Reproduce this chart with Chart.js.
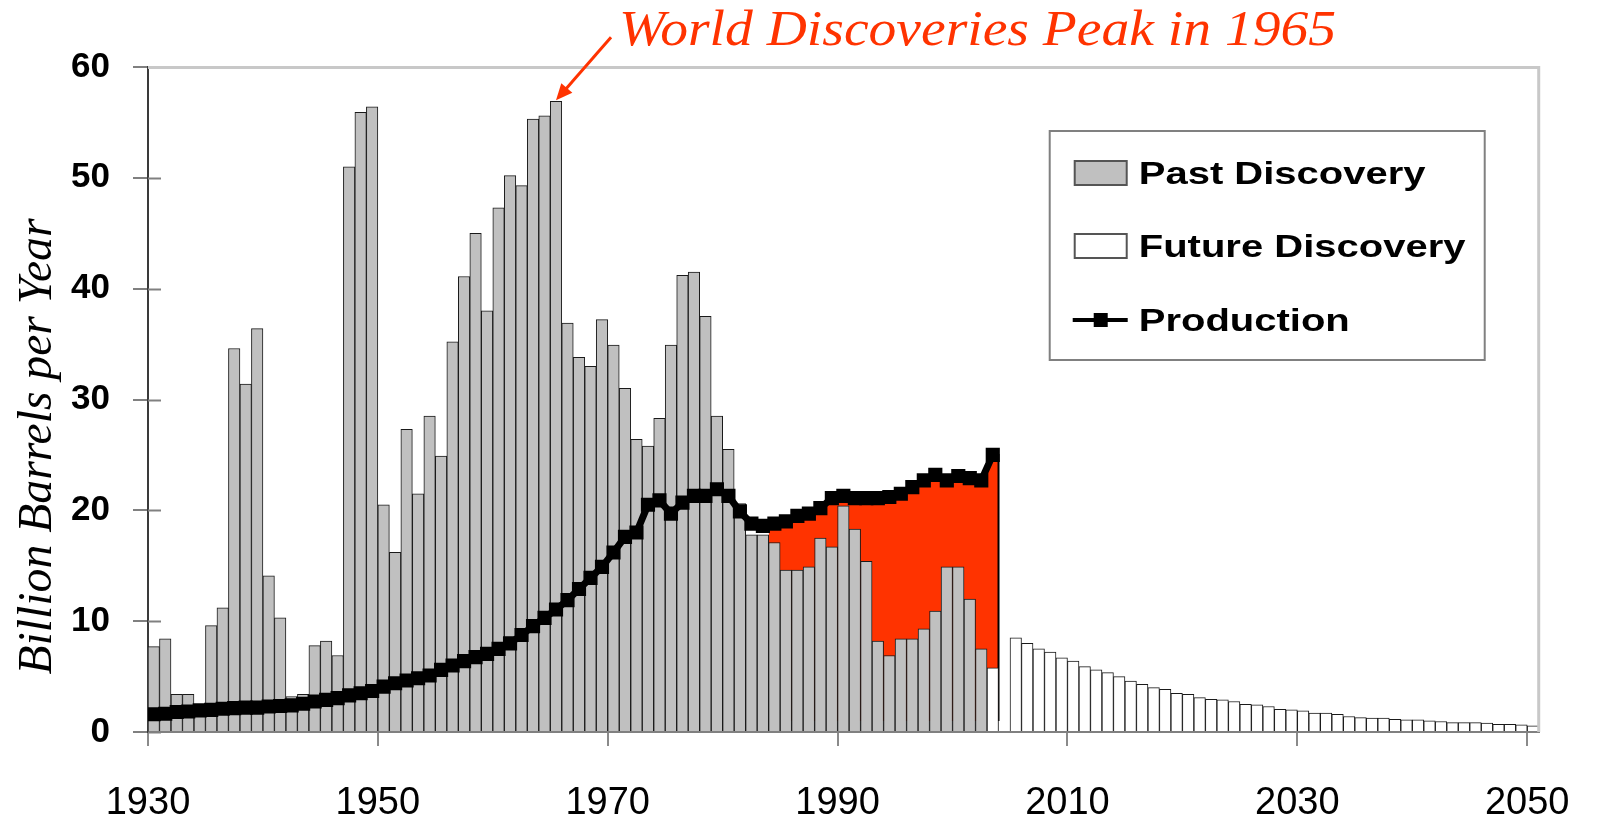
<!DOCTYPE html>
<html>
<head>
<meta charset="utf-8">
<script src="https://cdn.jsdelivr.net/npm/chart.js@4.4.1/dist/chart.umd.min.js"></script>
<style>
html, body { margin: 0; padding: 0; background: #fff; }
.wrap { width: 1601px; height: 824px; position: relative; }
</style>
</head>
<body>
<div class="wrap"><canvas id="chart"></canvas></div>
<script>
// discovery per year, billion barrels (past = grey bars)
let pastStart = 1930;
let pastDiscovery = [
  7.7, 8.4, 3.4, 3.4, 1.8, 9.6, 11.2, 34.6, 31.4, 36.4,
  14.1, 10.3, 3.2, 3.4, 7.8, 8.2, 6.9, 51.0, 55.9, 56.4,
  20.5, 16.2, 27.3, 21.5, 28.5, 24.9, 35.2, 41.1, 45.0, 38.0,
  47.3, 50.2, 49.3, 55.3, 55.6, 56.9, 36.9, 33.8, 33.0, 37.2,
  34.9, 31.0, 26.4, 25.8, 28.3, 34.9, 41.2, 41.5, 37.5, 28.5,
  25.5, 20.6, 17.8, 17.8, 17.1, 14.6, 14.6, 14.9, 17.5, 16.7,
  20.4, 18.3, 15.4, 8.2, 6.9, 8.4, 8.4, 9.3, 10.9, 14.9,
  14.9, 12.0, 7.5
];

// future discovery (white bars), from 2003
let futureStart = 2003;
let futureDiscovery = [
  5.8, null, 8.5, 8.0, 7.5, 7.2, 6.7,
  6.4, 5.9, 5.6, 5.35, 5.0, 4.6, 4.3, 4.0, 3.85, 3.5,
  3.4, 3.1, 2.95, 2.9, 2.75, 2.5, 2.45, 2.3, 2.05, 2.0,
  1.9, 1.7, 1.7, 1.6, 1.4, 1.3, 1.25, 1.25, 1.15, 1.1,
  1.1, 1.0, 0.95, 0.85, 0.85, 0.85, 0.8, 0.7, 0.7, 0.65, 0.55
];

// production, 1930-2003
let productionStart = 1930;
let production = [
  1.6, 1.65, 1.8, 1.85, 1.95, 2.0, 2.1, 2.15, 2.2, 2.2,
  2.3, 2.35, 2.4, 2.55, 2.75, 2.9, 3.05, 3.3, 3.5, 3.7,
  4.1, 4.4, 4.65, 4.85, 5.1, 5.6, 6.0, 6.4, 6.75, 7.05,
  7.5, 8.0, 8.75, 9.55, 10.3, 11.05, 11.9, 12.9, 13.9, 14.9,
  16.2, 17.6, 18.0, 20.5, 20.9, 19.7, 20.7, 21.3, 21.3, 21.9,
  21.3, 19.9, 18.8, 18.6, 18.8, 19.0, 19.5, 19.7, 20.2, 21.1,
  21.3, 21.1, 21.1, 21.1, 21.2, 21.5, 22.1, 22.7, 23.2, 22.7,
  23.1, 22.9, 22.7, 25.0
];

// years where production runs ahead of discovery (red area)
let gapFrom = 1984;
let gapTo = 2003;

let xTicks = [1930, 1950, 1970, 1990, 2010, 2030, 2050];
let peakYear = 1965;
let peakLabel = "World Discoveries Peak in 1965";
let yTitle = "Billion Barrels per Year";
let legendLabels = ["Past Discovery", "Future Discovery", "Production"];

let toPoints = (start, arr) => arr.map((v, i) => ({x: start + i + 0.5, y: v}));

let gapPoints = () => {
  let pts = [{x: gapFrom, y: production[gapFrom - productionStart]}];
  for (let yr = gapFrom; yr <= gapTo; yr++) {
    pts.push({x: yr + 0.5, y: production[yr - productionStart]});
  }
  pts.push({x: gapTo + 1, y: production[gapTo - productionStart]});
  pts.push({x: gapTo + 1, y: 1});
  return pts;
};

let sans = "'Liberation Sans', Arial, sans-serif";
let serif = "'Liberation Serif', 'Times New Roman', serif";

let decor = {
  id: "decor",
  beforeDatasetsDraw(chart) {
    let ctx = chart.ctx;
    let y = chart.scales.y;
    let a = chart.chartArea;
    ctx.save();
    ctx.strokeStyle = "#808080";
    ctx.lineWidth = 2;
    y.ticks.forEach(t => {
      let py = Math.round(y.getPixelForValue(t.value)) + 0.5;
      ctx.beginPath();
      ctx.moveTo(a.left, py);
      ctx.lineTo(a.left + 13, py);
      ctx.stroke();
    });
    ctx.restore();
  },
  afterDatasetsDraw(chart) {
    let ctx = chart.ctx;
    let a = chart.chartArea;
    let x = chart.scales.x;
    let y = chart.scales.y;
    ctx.save();

    // light frame top and right
    ctx.strokeStyle = "#c8c8c8";
    ctx.lineWidth = 3;
    ctx.beginPath();
    ctx.moveTo(a.left, a.top + 0.5);
    ctx.lineTo(a.right, a.top + 0.5);
    ctx.lineTo(a.right, a.bottom);
    ctx.stroke();

    // y axis title, a bit below the middle like the original
    ctx.font = "italic 48px " + serif;
    ctx.fillStyle = "#000";
    ctx.textAlign = "center";
    ctx.textBaseline = "middle";
    let tw = ctx.measureText(yTitle).width;
    ctx.save();
    ctx.translate(38, (a.top + a.bottom) / 2 + 47);
    ctx.rotate(-Math.PI / 2);
    ctx.scale(456 / tw, 1);
    ctx.fillText(yTitle, 0, 0);
    ctx.restore();

    // arrow to the peak bar
    let peakVal = pastDiscovery[peakYear - pastStart];
    let tx = x.getPixelForValue(peakYear + 0.5);
    let ty = y.getPixelForValue(peakVal) - 1;
    let sx = tx + 55, sy = ty - 63;
    let ang = Math.atan2(ty - sy, tx - sx);
    ctx.strokeStyle = "#ff3300";
    ctx.fillStyle = "#ff3300";
    ctx.lineWidth = 3;
    ctx.beginPath();
    ctx.moveTo(sx, sy);
    ctx.lineTo(tx - 10 * Math.cos(ang), ty - 10 * Math.sin(ang));
    ctx.stroke();
    ctx.beginPath();
    ctx.moveTo(tx, ty);
    ctx.lineTo(tx - 18 * Math.cos(ang - 0.42), ty - 18 * Math.sin(ang - 0.42));
    ctx.lineTo(tx - 18 * Math.cos(ang + 0.42), ty - 18 * Math.sin(ang + 0.42));
    ctx.closePath();
    ctx.fill();

    // peak label
    ctx.font = "italic 50px " + serif;
    ctx.textBaseline = "alphabetic";
    ctx.textAlign = "left";
    let w = ctx.measureText(peakLabel).width;
    ctx.save();
    ctx.translate(tx + 63, ty - 55);
    ctx.scale(717 / w, 1);
    ctx.fillText(peakLabel, 0, 0);
    ctx.restore();

    // legend box
    let lx = a.right - 489, ly = a.top + 64, lw = 435, lh = 229;
    ctx.fillStyle = "#fff";
    ctx.fillRect(lx, ly, lw, lh);
    ctx.strokeStyle = "#808080";
    ctx.lineWidth = 2;
    ctx.strokeRect(lx, ly, lw, lh);
    let rows = [ly + 42, ly + 115, ly + 189];

    ctx.fillStyle = "#c0c0c0";
    ctx.fillRect(lx + 25, rows[0] - 12, 52, 24);
    ctx.strokeStyle = "#555";
    ctx.lineWidth = 2;
    ctx.strokeRect(lx + 25, rows[0] - 12, 52, 24);
    ctx.fillStyle = "#fff";
    ctx.fillRect(lx + 25, rows[1] - 12, 52, 24);
    ctx.strokeRect(lx + 25, rows[1] - 12, 52, 24);
    ctx.strokeStyle = "#000";
    ctx.lineWidth = 4;
    ctx.beginPath();
    ctx.moveTo(lx + 23, rows[2]);
    ctx.lineTo(lx + 78, rows[2]);
    ctx.stroke();
    ctx.fillStyle = "#000";
    ctx.fillRect(lx + 44, rows[2] - 7, 14, 14);

    ctx.font = "bold 32px " + sans;
    ctx.fillStyle = "#000";
    legendLabels.forEach((txt, i) => {
      ctx.save();
      ctx.translate(lx + 89, rows[i] + 11);
      ctx.scale(1.25, 1);
      ctx.fillText(txt, 0, 0);
      ctx.restore();
    });

    ctx.restore();
  }
};

let canvas = document.querySelector("#chart");

let chart = new Chart(canvas, {
  type: "bar",
  data: {
    datasets: [
      {
        type: "line",
        label: "Production",
        data: toPoints(productionStart, production),
        borderColor: "#000",
        borderWidth: 7,
        tension: 0,
        fill: false,
        pointStyle: "rect",
        pointRadius: 10,
        pointBackgroundColor: "#000",
        pointBorderColor: "#000",
        pointBorderWidth: 0,
        order: 1
      },
      {
        label: "Past Discovery",
        data: toPoints(pastStart, pastDiscovery),
        backgroundColor: "#c0c0c0",
        borderColor: "#1a1a1a",
        borderWidth: 1,
        barPercentage: 1,
        categoryPercentage: 1,
        grouped: false,
        order: 2
      },
      {
        label: "Future Discovery",
        data: toPoints(futureStart, futureDiscovery),
        backgroundColor: "#fff",
        borderColor: "#1a1a1a",
        borderWidth: 1,
        barPercentage: 1,
        categoryPercentage: 1,
        grouped: false,
        order: 2
      },
      {
        type: "line",
        label: "gap",
        data: gapPoints(),
        borderColor: "#000",
        borderWidth: 2,
        backgroundColor: "#ff3300",
        fill: { value: 1 },
        tension: 0,
        pointRadius: 0,
        order: 3
      }
    ]
  },
  options: {
    responsive: true,
    maintainAspectRatio: false,
    devicePixelRatio: 1,
    animation: false,
    events: [],
    layout: { padding: { top: 67, right: 62, bottom: 0, left: 0 } },
    plugins: {
      legend: { display: false },
      tooltip: { enabled: false }
    },
    scales: {
      x: {
        type: "linear",
        min: 1930,
        max: 2051,
        offset: false,
        afterBuildTicks: s => { s.ticks = xTicks.map(v => ({value: v})); },
        afterFit: s => { s.height = 92; },
        ticks: {
          autoSkip: false,
          maxRotation: 0,
          padding: 31,
          color: "#000",
          font: { family: sans, size: 38, lineHeight: 1.4 },
          callback: v => String(v)
        },
        grid: { drawOnChartArea: false, offset: false, tickLength: 14, color: "#8a8a8a", lineWidth: 2 },
        border: { color: "#808080", width: 2 }
      },
      y: {
        min: 0,
        max: 60,
        afterFit: s => { s.width = 148; },
        ticks: {
          stepSize: 10,
          padding: 23,
          color: "#000",
          font: { family: sans, size: 35, weight: "bold" }
        },
        grid: { drawOnChartArea: false, tickLength: 15, color: "#808080", lineWidth: 2 },
        border: { color: "#3a3a3a", width: 2 }
      }
    }
  },
  plugins: [decor]
});
</script>
</body>
</html>
